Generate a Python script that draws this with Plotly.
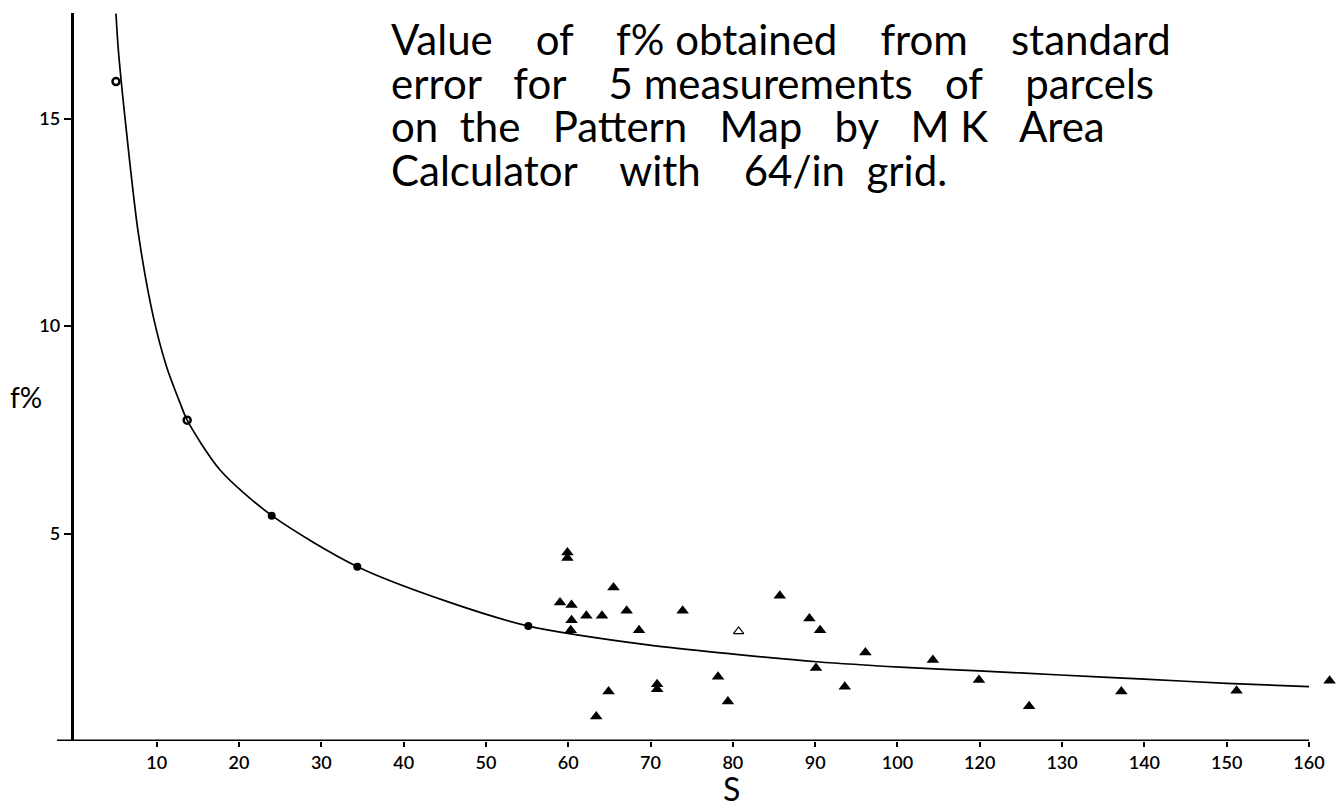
import plotly.graph_objects as go

# ---- data (x in axis position units; tick labels as printed on the chart) ----
tick_pos = [10, 20, 30, 40, 50, 60, 70, 80, 90, 100, 110, 120, 130, 140, 150]
tick_labels = ["10", "20", "30", "40", "50", "60", "70", "80", "90", "100",
               "120", "130", "140", "150", "160"]
ytick_vals = [5, 10, 15]

circ_open_x = [5.05, 13.7]
circ_open_y = [15.89, 7.73]
circ_fill_x = [23.97, 34.37, 55.15]
circ_fill_y = [5.43, 4.20, 2.77]

tri_x = [59.9, 59.9, 65.5, 59.0, 60.4, 62.2, 64.1, 67.1, 60.4, 60.3, 68.6, 73.9,
         85.7, 89.3, 90.6, 96.1, 90.1, 78.2, 70.8, 70.8, 64.9, 79.4, 63.4, 93.6,
         104.3, 109.9, 116.0, 127.2, 141.2, 152.5]
tri_y = [4.54, 4.41, 3.70, 3.34, 3.28, 3.02, 3.02, 3.14, 2.91, 2.67, 2.67, 3.14,
         3.50, 2.95, 2.67, 2.13, 1.76, 1.55, 1.37, 1.25, 1.19, 0.95, 0.59, 1.31,
         1.95, 1.47, 0.84, 1.19, 1.21, 1.45]
tri_open_x = [80.7]
tri_open_y = [2.64]

curve_x = [5.05, 5.34, 6.35, 7.77, 9.59, 11.2, 12.83, 13.7, 17.7, 24.0, 34.4,
           45.6, 55.2, 69.9, 79.8, 90.2, 100.3, 109.9, 119.8, 130.0, 140.0, 150.0]
curve_y = [17.53, 16.65, 14.64, 12.23, 10.22, 9.02, 8.15, 7.73, 6.53, 5.43, 4.20,
           3.34, 2.77, 2.31, 2.10, 1.91, 1.78, 1.69, 1.59, 1.49, 1.39, 1.31]

NB = "\u00a0"
title_lines = [
    "Value" + NB * 4 + "of" + NB * 4 + "f%" + " " + "obtained" + NB * 4 + "from" + NB * 4 + "standard",
    "error" + NB * 3 + "for" + NB * 4 + "5" + " " + "measurements" + NB * 3 + "of" + NB * 4 + "parcels",
    "on" + NB * 2 + "the" + NB * 3 + "Pattern" + NB * 3 + "Map" + NB * 3 + "by" + NB * 3 + "M" + NB + "K" + NB * 3 + "Area",
    "Calculator" + NB * 4 + "with" + NB * 4 + "64/in" + NB * 2 + "grid.",
]
y_label = "f%"
x_label = "S"

# ---- layout geometry ----
W, H = 1336, 802
L, R, T, B = 40, 0, 13, 61
px_per_x = 8.2307
x0_px = 74.4
PW, PH = W - L - R, H - T - B
xr = [(L - x0_px) / px_per_x, (W - R - x0_px) / px_per_x]
yr = [0, PH / 41.5]


def px_to_paper_x(px):
    return (px - L) / PW


def px_to_paper_y(py):
    return 1 - (py - T) / PH


fig = go.Figure()
fig.add_trace(go.Scatter(x=curve_x, y=curve_y, mode="lines",
                         line=dict(color="black", width=1.7, shape="spline", smoothing=0.8),
                         hoverinfo="skip", cliponaxis=False))
fig.add_trace(go.Scatter(x=circ_open_x, y=circ_open_y, mode="markers",
                         marker=dict(symbol="circle-open", size=7, color="black",
                                     line=dict(width=2.5)), cliponaxis=False))
fig.add_trace(go.Scatter(x=circ_fill_x, y=circ_fill_y, mode="markers",
                         marker=dict(symbol="circle", size=8, color="black"), cliponaxis=False))
fig.add_trace(go.Scatter(x=tri_x, y=tri_y, mode="markers",
                         marker=dict(symbol="triangle-up", size=11, color="black"),
                         cliponaxis=False))
fig.add_trace(go.Scatter(x=tri_open_x, y=tri_open_y, mode="markers",
                         marker=dict(symbol="triangle-up-open", size=9, color="black",
                                     line=dict(width=1.2)), cliponaxis=False))

# x axis line (extends a little left of the y axis, stops at the last tick)
fig.add_shape(type="line", x0=(57 - x0_px) / px_per_x, x1=tick_pos[-1], y0=0, y1=0,
              xref="x", yref="y", line=dict(color="black", width=3))

tickfont = dict(family="Lato, sans-serif", size=18, color="black", weight=600)
fig.update_xaxes(range=xr, tickmode="array", tickvals=tick_pos, ticktext=tick_labels,
                 ticks="outside", ticklen=5, tickwidth=1.5, tickcolor="black",
                 showgrid=False, zeroline=False, showline=False, tickfont=tickfont)
fig.update_yaxes(range=yr, tickmode="array", tickvals=ytick_vals,
                 ticks="outside", ticklen=7, tickwidth=1.5, tickcolor="black",
                 showgrid=False, zeroline=False, showline=True, linewidth=2.5,
                 linecolor="black", tickfont=tickfont,
                 anchor="free", position=px_to_paper_x(71.5))

title_font = dict(family="Lato, sans-serif", size=42, color="black")
line_mid = [38.7, 82.7, 125.7, 169.7]
for txt, yy in zip(title_lines, line_mid):
    fig.add_annotation(text=txt, xref="paper", yref="paper",
                       x=px_to_paper_x(389), y=px_to_paper_y(yy),
                       xanchor="left", yanchor="middle", showarrow=False,
                       font=title_font, align="left")

fig.add_annotation(text=y_label, xref="paper", yref="paper",
                   x=px_to_paper_x(26), y=px_to_paper_y(397),
                   xanchor="center", yanchor="middle", showarrow=False,
                   font=dict(family="Lato, sans-serif", size=28, color="black"))
fig.add_annotation(text=x_label, xref="paper", yref="paper",
                   x=px_to_paper_x(731), y=px_to_paper_y(788),
                   xanchor="center", yanchor="middle", showarrow=False,
                   font=dict(family="Lato, sans-serif", size=32, color="black"))

fig.update_layout(width=W, height=H, margin=dict(l=L, r=R, t=T, b=B),
                  paper_bgcolor="white", plot_bgcolor="white", showlegend=False)

fig.write_html("out.html")
